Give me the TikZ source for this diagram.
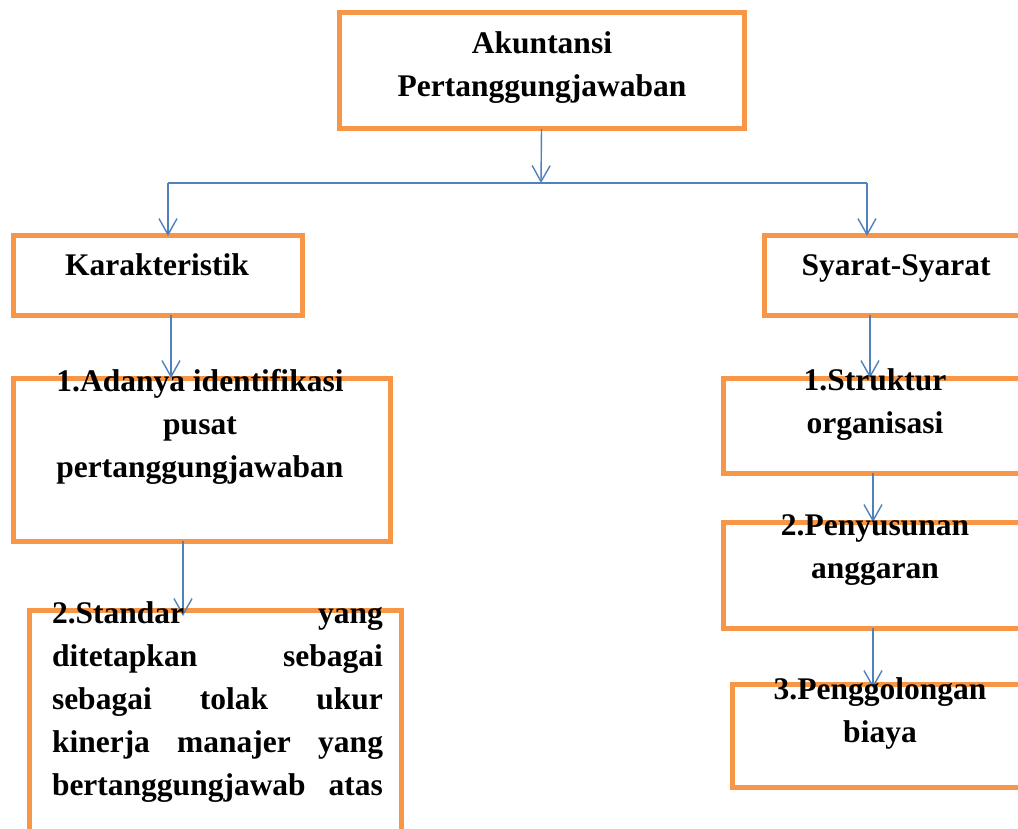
\documentclass[tikz,border=0pt]{standalone}
\usepackage{fontspec}
\setmainfont{Liberation Serif}
\usetikzlibrary{arrows.meta}
\definecolor{boxorange}{HTML}{F79646}
\definecolor{lineblue}{HTML}{4F81BD}
\tikzset{
	box/.style={draw=boxorange, line width=5pt, inner sep=0pt, outer sep=0pt},
	txt/.style={font=\bfseries\fontsize{31.5}{43}\selectfont, align=center, anchor=base, inner sep=0pt},
	arr/.style={draw=lineblue, line width=1.4pt, -{Straight Barb[length=16pt,width=18pt]}},
	link/.style={draw=lineblue, line width=1.4pt}
}
\begin{document}
\begin{tikzpicture}[x=1pt, y=-1pt]
	\clip (0,0) rectangle (1018,829);
	\fill[white] (0,0) rectangle (1018,829);

	% boxes
	\node[box, minimum width=405, minimum height=116] (top) at (541.5,71) {};
	\node[box, minimum width=289, minimum height=79] (kar) at (157.5,275.5) {};
	\node[box, minimum width=336, minimum height=79] (syarat) at (932,275.5) {};
	\node[box, minimum width=377, minimum height=163] (adanya) at (201.5,459.5) {};
	\node[box, minimum width=372, minimum height=290] (standar) at (215,755) {};
	\node[box, minimum width=377, minimum height=95] (struktur) at (911.5,425.5) {};
	\node[box, minimum width=377, minimum height=106] (penyusunan) at (911.5,575) {};
	\node[box, minimum width=368, minimum height=103] (penggolongan) at (916,735.5) {};

	% connectors
	\coordinate (split) at (541,183);
	\coordinate (lsplit) at (168,183);
	\coordinate (rsplit) at (867,183);
	\draw[arr] (top.south) -- (split);
	\draw[link] (lsplit) -- (rsplit);
	\draw[arr] (lsplit) -- (lsplit |- kar.north);
	\draw[arr] (rsplit) -- (rsplit |- syarat.north);
	\draw[arr] ([xshift=13.5]kar.south) -- ([xshift=13.5]kar.south |- adanya.north);
	\draw[arr] ([xshift=-18.5]adanya.south) -- ([xshift=-18.5,yshift=-6]adanya.south |- standar.north);
	\draw[arr] ([xshift=-62]syarat.south) -- ([xshift=-62]syarat.south |- struktur.north);
	\draw[arr] ([xshift=-38.5]struktur.south) -- ([xshift=-38.5]struktur.south |- penyusunan.north);
	\draw[arr] ([xshift=-38.5]penyusunan.south) -- ([xshift=-38.5,yshift=-4]penyusunan.south |- penggolongan.north);

	% texts (base = last line)
	\node[txt] (top-text) at (542,97) {Akuntansi\\Pertanggungjawaban};
	\node[txt] (kar-text) at (157,276) {Karakteristik};
	\node[txt] (syarat-text) at (896,276) {Syarat-Syarat};
	\node[txt] (adanya-text) at (200,477) {1.Adanya identifikasi\\pusat\\pertanggungjawaban};
	\node[txt, text width=331, align=left] (standar-text) at (217.5,623)
		{2.Standar \hfill yang\\ ditetapkan \hfill sebagai\\ sebagai \hfill tolak \hfill ukur\\ kinerja \hfill manajer \hfill yang\\ bertanggungjawab \hfill atas};
	\node[txt] (struktur-text) at (875,433) {1.Struktur\\organisasi};
	\node[txt] (penyusunan-text) at (875,578) {2.Penyusunan\\anggaran};
	\node[txt] (penggolongan-text) at (880,742) {3.Penggolongan\\biaya};
\end{tikzpicture}
\end{document}
